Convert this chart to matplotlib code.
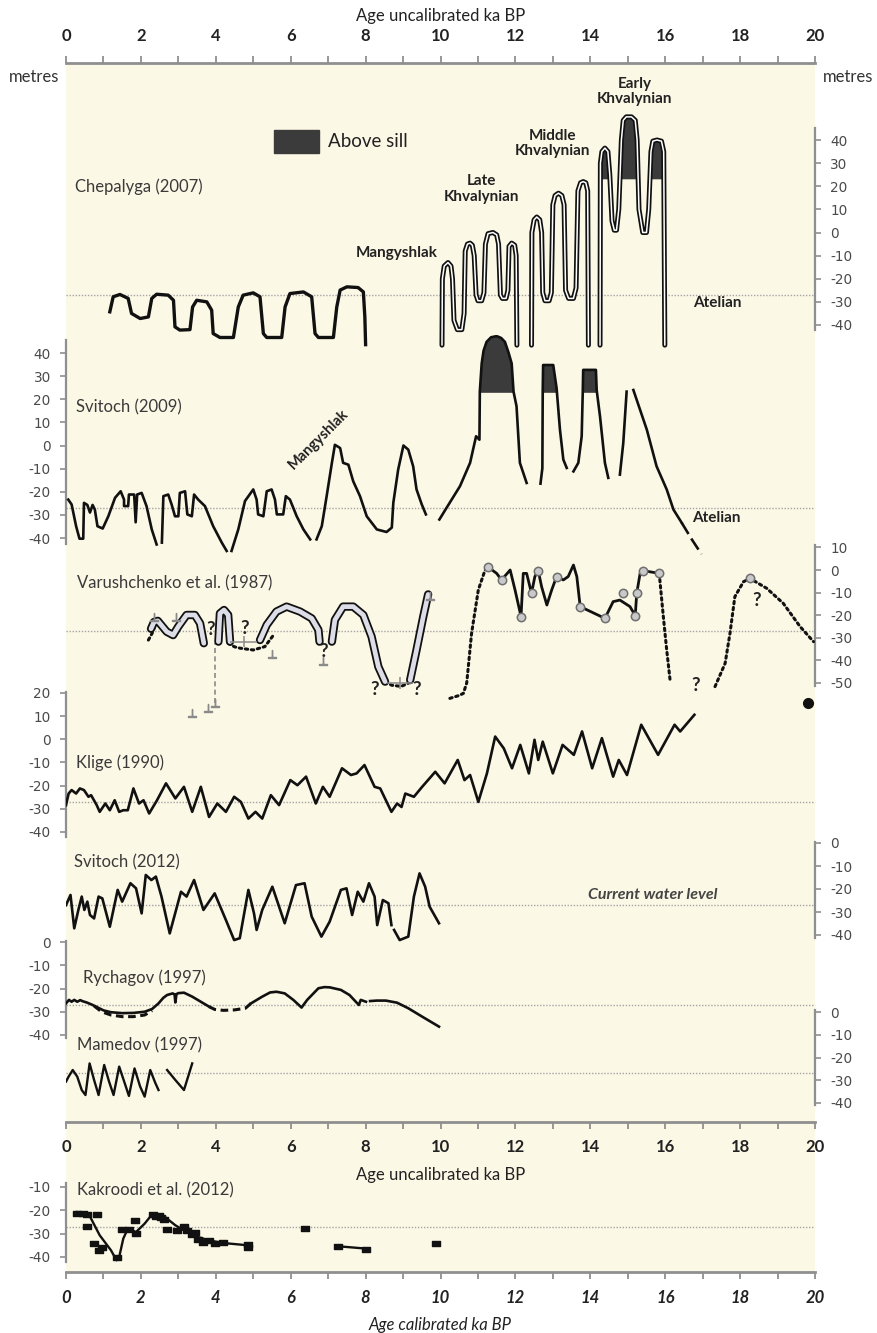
import numpy as np
import matplotlib.pyplot as plt
from matplotlib.patches import Rectangle
from matplotlib.path import Path
from matplotlib.ticker import MultipleLocator

nan = np.nan

# ---- data: age in ka BP, level in metres ----
CURRENT_LEVEL = -27
SILL = 23
AGE_TICKS = list(range(0, 21, 2))

# Chepalyga (2007)
CHEP_HOL_AGE = [1.17, 1.26, 1.44, 1.66, 1.75, 1.98, 2.2, 2.29, 2.42, 2.73, 2.87, 2.91, 3.04, 3.31, 3.38,
                3.49, 3.76, 3.89, 3.93, 4.11, 4.47, 4.6, 4.73, 5.0, 5.18, 5.27, 5.36, 5.76, 5.85, 5.98,
                6.34, 6.56, 6.65, 6.74, 7.14, 7.23, 7.32, 7.5, 7.8, 7.94, 7.98, 8.0]
CHEP_HOL_LEVEL = [-34.3, -27.8, -26.8, -28.5, -35, -37.2, -36.5, -28.5, -26.7, -27.1, -29.3, -40.8, -42.2, -42, -32.2,
                  -29.3, -30, -33.6, -43.7, -45.4, -45.4, -32.2, -27.1, -26.1, -27.8, -43.7, -45.4, -45.4, -32.2, -26.4,
                  -25.7, -27.8, -43.7, -45.4, -45.4, -32.2, -24.9, -23.5, -23.8, -25.7, -36.5, -48.5]
CHEP_PLEI_AGE = [10.04, 10.05, 10.1, 10.2, 10.28, 10.32, 10.36, 10.45, 10.57, 10.63, 10.66, 10.72, 10.79, 10.85, 10.9,
                 10.95, 11.0, 11.1, 11.16, 11.2, 11.27, 11.4, 11.5, 11.55, 11.6, 11.65, 11.75, 11.8, 11.83, 11.9,
                 11.98, 12.02, 12.04, nan,
                 12.43, 12.44, 12.5, 12.57, 12.65, 12.7, 12.73, 12.79, 12.9, 12.96, 13.0, 13.06, 13.15, 13.24, 13.3,
                 13.34, 13.42, 13.55, 13.62, 13.67, 13.74, 13.81, 13.88, 13.93, 13.95, nan,
                 14.26, 14.27, 14.31, 14.39, 14.47, 14.52, 14.58, 14.64, 14.7, 14.76, 14.83, 14.88, 14.96, 15.1, 15.2,
                 15.25, 15.3, 15.4, 15.5, 15.56, 15.62, 15.67, 15.78, 15.9, 15.96, 15.99]
CHEP_PLEI_LEVEL = [-48.7, -20, -14.5, -13, -14.5, -20, -38, -42, -42, -35, -8, -5, -4.6, -5.5, -10,
                   -27, -29.5, -29.5, -26, -5, -0.5, 0, -1, -5, -27, -28.5, -28.5, -25, -6, -4.6,
                   -5.5, -10, -48.7, nan,
                   -48.7, 0, 5.5, 6.7, 5.5, 0, -26, -29.5, -29.5, -26, 12, 16, 17, 16, 12,
                   -25, -28.5, -28.5, -24, 18, 21.5, 22, 21.5, 18, -48.7, nan,
                   -48.7, 30, 35, 36.5, 35, 25, 5, 1, 1, 10, 40, 48.5, 50, 50, 48.5,
                   40, 10, 0, 0, 10, 35, 39.5, 40, 39.5, 35, -48.7]

# Svitoch (2009)
SV09_AGE = [0.06, 0.15, 0.27, 0.36, 0.46, 0.48, 0.57, 0.64, 0.71, 0.77, 0.84, 0.98, 1.13, 1.31, 1.46,
            1.55, 1.55, 1.66, 1.68, 1.82, 1.86, 1.9, 2.02, 2.15, 2.29, 2.42, nan,
            2.56, 2.6, 2.73, 2.82, 2.91, 3.0, 3.04, 3.18, 3.24, 3.36, 3.42, 3.53, 3.71, 3.93, 4.16, 4.29, nan,
            4.42, 4.6, 4.78, 5.0, 5.09, 5.13, 5.27, 5.36, 5.49, 5.58, 5.63, 5.8, 5.87, 5.98, 6.16, 6.34, 6.52, nan,
            6.69, 6.83, 6.96, 7.1, 7.18, 7.32, 7.4, 7.54, 7.67, 7.85, 8.03, 8.3, 8.56, 8.7, 8.74,
            8.87, 9.01, 9.14, 9.27, 9.36, 9.5, 9.61, nan,
            9.97, 10.16, 10.52, 10.79, 10.95, 11.04, 11.05, 11.1, 11.15, 11.23, 11.35, 11.5, 11.62, 11.72, 11.82,
            11.9, 11.95, 12.03, 12.12, 12.3, nan,
            12.67, 12.72, 12.73, 12.74, 13.01, 13.1, 13.19, 13.28, 13.37, nan,
            13.55, 13.68, 13.77, 13.8, 13.81, 14.15, 14.17, 14.26, 14.39, 14.48, nan,
            14.79, 14.88, 14.97, nan,
            15.15, 15.51, 15.77, 16.04, 16.22, 16.44]
SV09_LEVEL = [-23.4, -25.5, -34.9, -40.3, -40.3, -24.8, -25.7, -29, -25.7, -27.7, -34.9, -35.9, -30.6, -22.6, -19.8,
              -23.4, -26.2, -26.2, -21.2, -21.2, -33.2, -21.2, -20.5, -26.2, -36.3, -42.8, nan,
              -42, -21.9, -21.2, -25.5, -30.6, -30.6, -20.5, -19.8, -29.8, -30.6, -21.2, -23.4, -26.2, -34.9, -42, -45.6, nan,
              -45.6, -36.3, -24, -19, -23.4, -29.8, -30.6, -19.8, -19, -23.4, -29.8, -29.8, -21.9, -23.4, -30.6, -36.3, -40.6, nan,
              -40.6, -34.9, -21.9, -7.5, 0.3, -1.1, -7.5, -8.3, -15.5, -21.9, -30.6, -36.3, -37.4, -35.5, -24.8,
              -10.4, 0, -1.8, -9, -19, -25.5, -29.8, nan,
              -32, -27, -17.6, -7.5, 4, 2.5, 23.3, 35.5, 41, 44.8, 46.8, 47.3, 46.5, 44.8, 40,
              35.5, 23.3, 17, -7.5, -16.2, nan,
              -16.5, -9.8, 24, 34.8, 34.8, 24.8, 6.8, -6.1, -9.7, nan,
              -11.2, -7.5, 4, 24, 32.7, 32.7, 24, 12.5, -7.5, -14, nan,
              -12.6, 1, 23.3, nan,
              24, 6.8, -9, -19, -27.7, -33.4]
SV09_TAIL_AGE = [16.44, 16.71, 16.97]
SV09_TAIL_LEVEL = [-33.4, -40.6, -47.0]

# Varushchenko et al. (1987)
VAR_TUBE_AGE = [2.27, 2.35, 2.45, 2.55, 2.69, 2.86, 3.0, 3.22, 3.44, 3.58, 3.68, nan,
                4.07, 4.11, 4.22, 4.33, 4.38, nan,
                5.18, 5.36, 5.62, 5.89, 6.25, 6.56, 6.74, 6.77, nan,
                7.1, 7.18, 7.4, 7.67, 7.94, 8.16, 8.34, 8.52, nan,
                9.19, 9.36, 9.54, 9.67]
VAR_TUBE_LEVEL = [-26, -23, -22.5, -24.5, -27.3, -28.8, -25, -19.9, -19.9, -23.6, -32.4, nan,
                  -31.7, -19.2, -17.7, -19.9, -31.7, nan,
                  -31, -24.3, -18.4, -16.2, -18.4, -21.4, -26.5, -31.7, nan,
                  -31.7, -22.1, -16.2, -16.2, -19.9, -29.5, -42.8, -49.4, nan,
                  -48.7, -35.4, -20.6, -10.8]
VAR_DOTTED_AGE = [2.2, 2.3, 2.4, nan, 4.33, 4.5, 4.65, 5.0, 5.31, 5.54, nan, 8.52, 8.7, 8.95, 9.14, 9.2, nan,
                  10.25, 10.5, 10.61, 10.7, 10.83, 11.01, 11.19, 11.28, nan, 15.84, 15.95, 16.04, 16.13, nan,
                  17.33, 17.6, 17.73, 17.86, 18.09, 18.26, 18.71, 19.15, 19.6, 19.96]
VAR_DOTTED_LEVEL = [-31, -28, -23.5, nan, -32.4, -34, -34.6, -35.4, -33.9, -28.8, nan, -49.4, -51, -51.5, -50.1, -49, nan,
                    -56.8, -55.5, -54.6, -50, -28, -8.8, 0, 1.2, nan, -1.5, -20.6, -35.4, -48.7, nan,
                    -51.6, -41.3, -28, -11.8, -5.2, -3.7, -8.1, -14.7, -25, -31.7]
VAR_LINE_AGE = [11.28, 11.5, 11.63, 11.86, 11.99, 12.15, 12.21, 12.3, 12.43, 12.52, 12.61, 12.7, 12.84, 12.97, 13.1,
                13.28, 13.41, 13.55, 13.64, 13.73, 14.39, 14.61, 14.79, 15.06, 15.2, 15.24, 15.33, 15.42, 15.84]
VAR_LINE_LEVEL = [1.2, -1.5, -4.4, 0, -8.8, -20.6, -1.5, -1.5, -10.3, -2.9, -0.3, -7.4, -15.5, -8.8, -2.9,
                  -4.4, -2.9, 2.2, -2.9, -16.2, -21.4, -14, -13.3, -16.2, -20.2, -10.3, -1.5, -0.3, -1.5]
VAR_CIRCLE_AGE = [11.28, 11.63, 12.15, 12.43, 12.61, 13.1, 13.73, 14.39, 14.86, 15.2, 15.24, 15.42, 15.84, 18.26]
VAR_CIRCLE_LEVEL = [1.2, -4.4, -20.6, -10.3, -0.3, -2.9, -16.2, -21.4, -10.3, -20.2, -10.3, -0.3, -1.5, -3.7]
VAR_QUERY_AGE = [3.86, 4.78, 6.89, 8.25, 9.36, 16.8, 18.44]
VAR_QUERY_LEVEL = [-26.5, -25.8, -36.1, -53, -53, -51, -13.3]
VAR_MARK_AGE = [3.37, 3.78, 3.98, 5.49, 6.87, 9.72, 2.35, 2.95]
VAR_MARK_LEVEL = [-63.3, -61, -58.8, -37, -40.4, -11.3, -21, -21]
VAR_ERR_LO = [4.38, 8.56]
VAR_ERR_HI = [5.09, 9.27]
VAR_ERR_MID = [4.74, 8.93]
VAR_ERR_LEVEL = [-31.7, -50]
VAR_DASH_AGE = 3.98
VAR_DASH_RANGE = (-58.8, -32.4)
VAR_OUTLIER = (19.8, -59)

# Klige (1990)
KLIGE_AGE = [0, 0.07, 0.15, 0.27, 0.37, 0.48, 0.6, 0.67, 0.82, 0.9, 1.05, 1.17, 1.3, 1.42, 1.53,
             1.65, 1.8, 1.95, 2.07, 2.22, 2.43, 2.67, 2.92, 3.15, 3.37, 3.6, 3.82, 4.04, 4.27, 4.49,
             4.67, 4.87, 5.06, 5.24, 5.47, 5.69, 5.99, 6.18, 6.41, 6.67, 6.86, 7.04, 7.37, 7.61, 7.76,
             7.97, 8.24, 8.39, 8.69, 8.84, 8.96, 9.06, 9.29, 9.51, 9.86, 10.11, 10.46, 10.64, 10.79, 11.01,
             11.24, 11.46, 11.69, 11.91, 12.13, 12.36, 12.51, 12.61, 12.73, 13.0, 13.26, 13.56, 13.78, 14.05, 14.31,
             14.61, 14.76, 14.98, 15.36, 15.81, 16.25, 16.4, 16.78]
KLIGE_LEVEL = [-28.4, -23.4, -21.9, -23.4, -21.2, -21.9, -24.8, -24.1, -28.4, -31.3, -27.7, -30.6, -26.3, -31.3, -30.6,
               -30.6, -21.2, -27.7, -26.3, -32, -26.3, -19, -25.5, -20.5, -31.3, -20.5, -33.5, -27.7, -31.3, -24.8,
               -27, -34.2, -31.3, -34.2, -24.1, -28.4, -17.6, -19.8, -16.1, -27.7, -20.5, -24.8, -12.5, -15.4, -14.7,
               -11.1, -20.5, -21.2, -31.3, -27.7, -29.2, -23.4, -24.8, -20.5, -14, -19, -8.9, -17.6, -15.4, -27,
               -14.7, 1.2, -3.9, -12.5, -2.4, -14.7, -0.2, -8.9, -1, -14.7, -2.4, -6.7, 3.4, -12.5, 0.5,
               -16.1, -8.9, -15.4, 6.3, -6.7, 6.3, 3.4, 10.6]

# Svitoch (2012)
SV12_AGE = [0, 0.12, 0.22, 0.33, 0.42, 0.49, 0.57, 0.64, 0.75, 0.87, 0.97, 1.17, 1.38, 1.5, 1.72,
            1.87, 2.02, 2.13, 2.28, 2.4, 2.55, 2.77, 3.07, 3.22, 3.42, 3.67, 3.97, 4.27, 4.49, 4.64,
            4.87, 5.02, 5.09, 5.24, 5.51, 5.84, 6.14, 6.37, 6.56, 6.82, 7.04, 7.34, 7.49, 7.64, 7.79,
            7.94, 8.09, 8.24, 8.31, 8.46, 8.61, 8.69, nan, 8.76, 8.91, 9.14, 9.29, 9.44, 9.59, 9.71, 9.96]
SV12_LEVEL = [-27, -22.6, -37.1, -29.1, -23.3, -29.1, -25.5, -31.3, -32.8, -23.3, -24.1, -36.4, -20.4, -25.5, -17.5,
              -19.7, -30.6, -13.9, -16.1, -14.6, -23.3, -39.3, -21.2, -23.3, -16.1, -29.1, -21.9, -33.5, -42.2, -41.4,
              -20.4, -30.6, -37.8, -29.1, -19, -34.9, -18.3, -17.5, -32, -40.7, -34.2, -20.4, -19.7, -31.3, -21.2,
              -25.5, -17.5, -23.3, -35.7, -24.8, -26.2, -35.7, nan, -37.8, -42.2, -40.7, -23.3, -13.2, -19, -27.7, -34.9]

# Rychagov (1997)
RYCH_SOLID_AGE = [0, 0.08, 0.15, 0.22, 0.3, 0.38, 0.45, 0.55, 0.7, 0.85, 1.0, 1.2, 1.5, 1.8, 2.1,
                  2.3, 2.47, 2.6, 2.7, 2.85, 2.9, 2.92, 2.95, 3.0, 3.15, 3.37, 3.6, 3.82, nan,
                  4.94, 5.24, 5.45, 5.62, 5.84, 6.07, 6.29, 6.44, 6.74, 6.9, 7.04, 7.34, 7.57, 7.82, 7.87, 8.01, nan,
                  8.12, 8.3, 8.54, 8.84, 9.14, 9.51, 9.96]
RYCH_SOLID_LEVEL = [-26.4, -24.9, -25.7, -24.9, -25.7, -25, -25.5, -26, -27, -28.2, -29.4, -30.2, -30.6, -30.5, -30,
                    -28.8, -26.4, -24, -22.8, -22.1, -22.6, -26, -22.4, -22, -21.8, -23.5, -25.7, -27.8, nan,
                    -26.4, -23.5, -21.7, -21.4, -22.1, -24.9, -28.2, -24.9, -19.9, -19.4, -19.5, -20.6, -22.8, -27.1, -24.9, -25.7, nan,
                    -25.4, -25.2, -25.2, -26.1, -28.5, -32.1, -36.4]
RYCH_DASH_AGE = [0.75, 0.95, 1.2, 1.5, 1.8, 2.1, 2.3, nan, 3.82, 3.97, 4.2, 4.5, 4.79, 4.94]
RYCH_DASH_LEVEL = [-27.5, -30, -31.4, -32.1, -32.1, -31.4, -29.5, nan, -27.8, -29, -29.4, -29.2, -28.5, -26.4]

# Mamedov (1997)
MAM_AGE = [0, 0.07, 0.18, 0.3, 0.42, 0.52, 0.63, 0.75, 0.87, 1.02, 1.15, 1.27, 1.42, 1.57, 1.68,
           1.83, 1.98, 2.1, 2.25, 2.38, 2.47, nan, 2.7, 2.92, 3.15, 3.37]
MAM_LEVEL = [-30.6, -28.4, -25.5, -28.4, -34.3, -36.5, -22.6, -29.9, -36.5, -23.3, -30.6, -36.5, -24, -31.4, -36.9,
             -24.8, -32.8, -37.2, -25.5, -31, -34.3, nan, -25.5, -29.9, -34.3, -22.6]

# Kakroodi et al. (2012), calibrated ages
KAK_AGE = [0.3, 0.45, 0.57, 0.57, 0.82, 0.75, 0.87, 1.35, 1.5, 1.68, 1.84, 1.87, 2.32, 2.47, 2.55,
           2.7, 2.97, 3.15, 3.22, 3.37, 3.45, 3.52, 3.67, 3.82, 3.97, 4.19, 4.87, 4.87, 6.37, 7.27,
           8.01, 9.89, 2.4, 2.62, 0.95]
KAK_LEVEL = [-21, -21, -21.4, -26.7, -21.4, -34, -37.1, -40, -27.9, -28.1, -24, -29.6, -21.7, -22.1, -22.9,
             -28.1, -28.6, -26.9, -28.6, -30, -29.3, -32.1, -33.6, -32.9, -34, -33.6, -34.3, -35.7, -27.6, -35.4,
             -36.4, -34, -22.4, -23.6, -35.8]
KAK_LINE_AGE = [0.3, 0.6, 0.9, 1.2, 1.35, 1.42, 1.53, 1.65, 1.87, 2.1, 2.28, 2.55, 2.7, 2.92, 3.22,
                3.52, 3.82, 4.19, 4.87, nan, 7.27, 8.01]
KAK_LINE_LEVEL = [-20.7, -21.4, -30.7, -37.1, -41.4, -40, -32.1, -27.9, -29.3, -25.7, -22.1, -21.7, -23.6, -26.4, -29.3,
                  -31.4, -32.9, -34, -35, nan, -35.4, -36.4]

# ---- layout (pixels of the 877 x 1333 output) ----
W, H = 877, 1333
X0, X1 = 66, 815
BEIGE = '#fcf8e6'
GREY = '#8f8f8f'
INK = '#111111'
TXT = '#3a3a3a'
DARK = '#3b3b3b'

plt.rcParams['font.family'] = ['Lato', 'DejaVu Sans']
plt.rcParams['axes.unicode_minus'] = False

fig = plt.figure(figsize=(W / 100, H / 100), dpi=100)


def px_axes(top, bottom, left=X0, right=X1):
    return fig.add_axes([left / W, 1 - bottom / H, (right - left) / W, (bottom - top) / H])


def segments(xs, ys):
    xs = np.asarray(xs, float)
    ys = np.asarray(ys, float)
    cut = np.where(np.isnan(xs))[0]
    for part_x, part_y in zip(np.split(xs, cut), np.split(ys, cut)):
        ok = ~np.isnan(part_x)
        if ok.sum() > 1:
            yield part_x[ok], part_y[ok]


def level_axes(top, bottom, ref_a, ref_b, side, bounds, ticks):
    (va, pa), (vb, pb) = ref_a, ref_b
    s = (pb - pa) / (va - vb)
    ax = px_axes(top, bottom)
    ax.set_xlim(0, 20)
    ax.set_ylim(va - (bottom - pa) / s, va + (pa - top) / s)
    ax.patch.set_visible(False)
    ax.xaxis.set_visible(False)
    for k, sp in ax.spines.items():
        sp.set_visible(k == side)
    ax.spines[side].set_bounds(*bounds)
    ax.spines[side].set_color(GREY)
    ax.spines[side].set_linewidth(1.6)
    ax.yaxis.set_ticks_position(side)
    ax.set_yticks(ticks, labels=[str(t) for t in ticks], fontfamily='DejaVu Sans', fontsize=9.8, color='#4a4a4a')
    ax.tick_params(axis='y', direction='out', length=4, width=1.2, color=GREY, pad=7)
    ax.axhline(CURRENT_LEVEL, color='#a5a5a5', lw=1.0, ls=(0, (1, 1.2)), zorder=1)
    return ax


def tube(ax, xs, ys, outer, inner, w_out, w_in):
    for sx, sy in segments(xs, ys):
        ax.plot(sx, sy, color=outer, lw=w_out, solid_capstyle='round', solid_joinstyle='round', zorder=3)
        ax.plot(sx, sy, color=inner, lw=w_in, solid_capstyle='round', solid_joinstyle='round', zorder=4)


def sill_fill(ax, xs, ys):
    for sx, sy in segments(xs, ys):
        if sy.max() > SILL:
            ax.fill_between(sx, sy, SILL, where=sy > SILL, interpolate=True, color=DARK, lw=0, zorder=2)


def label(ax, x, y, s, **kw):
    kw.setdefault('fontsize', 12)
    kw.setdefault('color', TXT)
    ax.text(x, y, s, ha=kw.pop('ha', 'left'), va=kw.pop('va', 'center'), **kw)


# beige background for the whole panel, then the frame with the uncalibrated age axes
bg = px_axes(63, 1272)
bg.set_facecolor(BEIGE)
bg.set_xticks([])
bg.set_yticks([])
for sp in bg.spines.values():
    sp.set_visible(False)

frame = px_axes(63, 1122)
frame.patch.set_visible(False)
frame.set_xlim(0, 20)
frame.set_yticks([])
for k in ('left', 'right', 'top'):
    frame.spines[k].set_visible(False)
frame.spines['bottom'].set_color(GREY)
frame.spines['bottom'].set_linewidth(2)
frame.set_xticks(AGE_TICKS, labels=[str(t) for t in AGE_TICKS], fontweight='bold', fontsize=12, color='#222')
frame.xaxis.set_minor_locator(MultipleLocator(1))
frame.tick_params(axis='x', which='both', direction='out', length=5, width=1.3, color=GREY, pad=7)
frame.set_xlabel('Age uncalibrated ka BP', fontsize=12, color='#222', labelpad=9)

top = frame.secondary_xaxis('top')
top.set_xticks(AGE_TICKS, labels=[str(t) for t in AGE_TICKS], fontweight='bold', fontsize=12, color='#222')
top.xaxis.set_minor_locator(MultipleLocator(1))
top.tick_params(axis='x', which='both', direction='out', length=5, width=1.3, color=GREY, pad=9)
top.spines['top'].set_color(GREY)
top.spines['top'].set_linewidth(2)
top.set_xlabel('Age uncalibrated ka BP', fontsize=12, color='#222', labelpad=5)

fig.text(34 / W, 1 - 77 / H, 'metres', ha='center', va='center', fontsize=12, color='#333')
fig.text(823 / W, 1 - 77 / H, 'metres', ha='left', va='center', fontsize=12, color='#333')

# Chepalyga (2007)
ax = level_axes(100, 352, (40, 140), (-40, 325), 'right', (-42, 45), list(range(-40, 41, 10)))
ax.plot(CHEP_HOL_AGE, CHEP_HOL_LEVEL, color=INK, lw=2.4, solid_joinstyle='round', zorder=3)
sill_fill(ax, CHEP_PLEI_AGE, CHEP_PLEI_LEVEL)
tube(ax, CHEP_PLEI_AGE, CHEP_PLEI_LEVEL, INK, 'white', 3.6, 1.1)
ax.add_patch(Rectangle((5.55, 34.4), 1.2, 9.9, color=DARK, zorder=3))
label(ax, 7.0, 39.3, 'Above sill', fontsize=13.5, color='#222')
label(ax, 0.24, 19.7, 'Chepalyga (2007)')
bold = dict(fontsize=11, fontweight='bold', color='#222', ha='center')
label(ax, 8.84, -8.9, 'Mangyshlak', **bold)
label(ax, 11.1, 18.8, 'Late\nKhvalynian', linespacing=1.1, **bold)
label(ax, 13.0, 38.3, 'Middle\nKhvalynian', linespacing=1.1, **bold)
label(ax, 15.19, 60.8, 'Early\nKhvalynian', linespacing=1.1, **bold)
label(ax, 17.38, -30.6, 'Atelian', **bold)

# Svitoch (2009)
ax = level_axes(335, 560, (40, 353), (-40, 538), 'left', (-42.8, 45.6), list(range(-40, 41, 10)))
sill_fill(ax, SV09_AGE, SV09_LEVEL)
for sx, sy in segments(SV09_AGE, SV09_LEVEL):
    ax.plot(sx, sy, color=INK, lw=1.9, solid_joinstyle='round', zorder=3)
ax.plot(SV09_TAIL_AGE, SV09_TAIL_LEVEL, color=INK, lw=1.9, ls=(0, (5, 2)), zorder=3)
label(ax, 0.27, 16.3, 'Svitoch (2009)')
label(ax, 6.76, 2.5, 'Mangyshlak', rotation=45, rotation_mode='anchor', fontsize=10.5,
      fontweight='bold', color='#222', ha='center')
label(ax, 17.37, -31.3, 'Atelian', **bold)

# Varushchenko et al. (1987)
ax = level_axes(540, 718, (0, 570), (-50, 683), 'right', (-51.3, 10.9), list(range(-50, 11, 10)))
tube(ax, VAR_TUBE_AGE, VAR_TUBE_LEVEL, INK, '#dcdde7', 6.0, 3.4)
for sx, sy in segments(VAR_DOTTED_AGE, VAR_DOTTED_LEVEL):
    ax.plot(sx, sy, color=INK, lw=2.2, ls=(0, (0.8, 1.2)), dash_capstyle='round', zorder=3)
ax.plot(VAR_LINE_AGE, VAR_LINE_LEVEL, color=INK, lw=2.0, solid_joinstyle='round', zorder=3)
ax.plot(VAR_CIRCLE_AGE, VAR_CIRCLE_LEVEL, 'o', ms=6, mfc='#c9c9c9', mec='#6f6f6f', mew=1.1, zorder=5)
ax.plot(VAR_MARK_AGE, VAR_MARK_LEVEL, ls='none', marker=r'$\perp$', ms=6, color='#8a8a8a', zorder=5)
ax.hlines(VAR_ERR_LEVEL, VAR_ERR_LO, VAR_ERR_HI, color='#8a8a8a', lw=1.1, zorder=5)
for xm, ym in zip(VAR_ERR_MID, VAR_ERR_LEVEL):
    ax.vlines(xm, ym - 2.5, ym + 2.5, color='#8a8a8a', lw=1.1, zorder=5)
ax.vlines(VAR_DASH_AGE, *VAR_DASH_RANGE, color='#8a8a8a', lw=1.2, ls=(0, (3, 2)), zorder=2)
ax.plot(*VAR_OUTLIER, 'o', ms=7, color=INK, zorder=5)
for qx, qy in zip(VAR_QUERY_AGE, VAR_QUERY_LEVEL):
    label(ax, qx, qy, '?', fontsize=13.5, fontweight='bold', color='#222', ha='center')
label(ax, 0.29, -5.8, 'Varushchenko et al. (1987)')

# Klige (1990)
ax = level_axes(685, 842, (20, 693), (-40, 832), 'left', (-42, 20.4), list(range(-40, 21, 10)))
ax.plot(KLIGE_AGE, KLIGE_LEVEL, color=INK, lw=1.9, solid_joinstyle='round', zorder=3)
label(ax, 0.27, -10.2, 'Klige (1990)')

# Svitoch (2012)
ax = level_axes(836, 945, (0, 843), (-40, 935), 'right', (-41.3, 0.4), list(range(-40, 1, 10)))
for sx, sy in segments(SV12_AGE, SV12_LEVEL):
    ax.plot(sx, sy, color=INK, lw=1.9, solid_joinstyle='round', zorder=3)
label(ax, 0.22, -8.3, 'Svitoch (2012)')
label(ax, 15.66, -22.6, 'Current water level', fontsize=11.5, fontweight='bold', style='italic',
      color='#444', ha='center')

# Rychagov (1997)
ax = level_axes(935, 1045, (0, 942), (-40, 1035), 'left', (-41.3, 0.3), list(range(-40, 1, 10)))
for sx, sy in segments(RYCH_SOLID_AGE, RYCH_SOLID_LEVEL):
    ax.plot(sx, sy, color=INK, lw=1.9, solid_joinstyle='round', zorder=3)
for sx, sy in segments(RYCH_DASH_AGE, RYCH_DASH_LEVEL):
    ax.plot(sx, sy, color=INK, lw=2.2, ls=(0, (2.5, 1.5)), zorder=3)
label(ax, 0.45, -15.5, 'Rychagov (1997)')

# Mamedov (1997)
ax = level_axes(1005, 1112, (0, 1012), (-40, 1103), 'right', (-40.9, 0.9), list(range(-40, 1, 10)))
for sx, sy in segments(MAM_AGE, MAM_LEVEL):
    ax.plot(sx, sy, color=INK, lw=1.7, solid_joinstyle='round', zorder=3)
label(ax, 0.3, -14.5, 'Mamedov (1997)')

# Kakroodi et al. (2012), calibrated time scale
kak = level_axes(1122, 1272, (-10, 1187), (-40, 1257), 'left', (-42.2, -8.3), list(range(-40, -9, 10)))
kak.xaxis.set_visible(True)
kak.spines['bottom'].set_visible(True)
kak.spines['bottom'].set_color(GREY)
kak.spines['bottom'].set_linewidth(2)
kak.set_xticks(AGE_TICKS, labels=[str(t) for t in AGE_TICKS], fontweight='bold', style='italic',
               fontsize=12, color='#222')
kak.xaxis.set_minor_locator(MultipleLocator(1))
kak.tick_params(axis='x', which='both', direction='out', length=5, width=1.3, color=GREY, pad=8)
kak.set_xlabel('Age calibrated ka BP', fontsize=12, style='italic', color='#222', labelpad=8)
for sx, sy in segments(KAK_LINE_AGE, KAK_LINE_LEVEL):
    kak.plot(sx, sy, color=INK, lw=1.7, zorder=3)
flat_box = Path([(-1, -0.6), (1, -0.6), (1, 0.6), (-1, 0.6), (-1, -0.6)],
                [Path.MOVETO, Path.LINETO, Path.LINETO, Path.LINETO, Path.CLOSEPOLY])
kak.plot(KAK_AGE, KAK_LEVEL, ls='none', marker=flat_box, ms=6, color=INK, zorder=4)
label(kak, 0.3, -11.3, 'Kakroodi et al. (2012)')

fig.savefig('out.png', dpi=100, facecolor='white')
